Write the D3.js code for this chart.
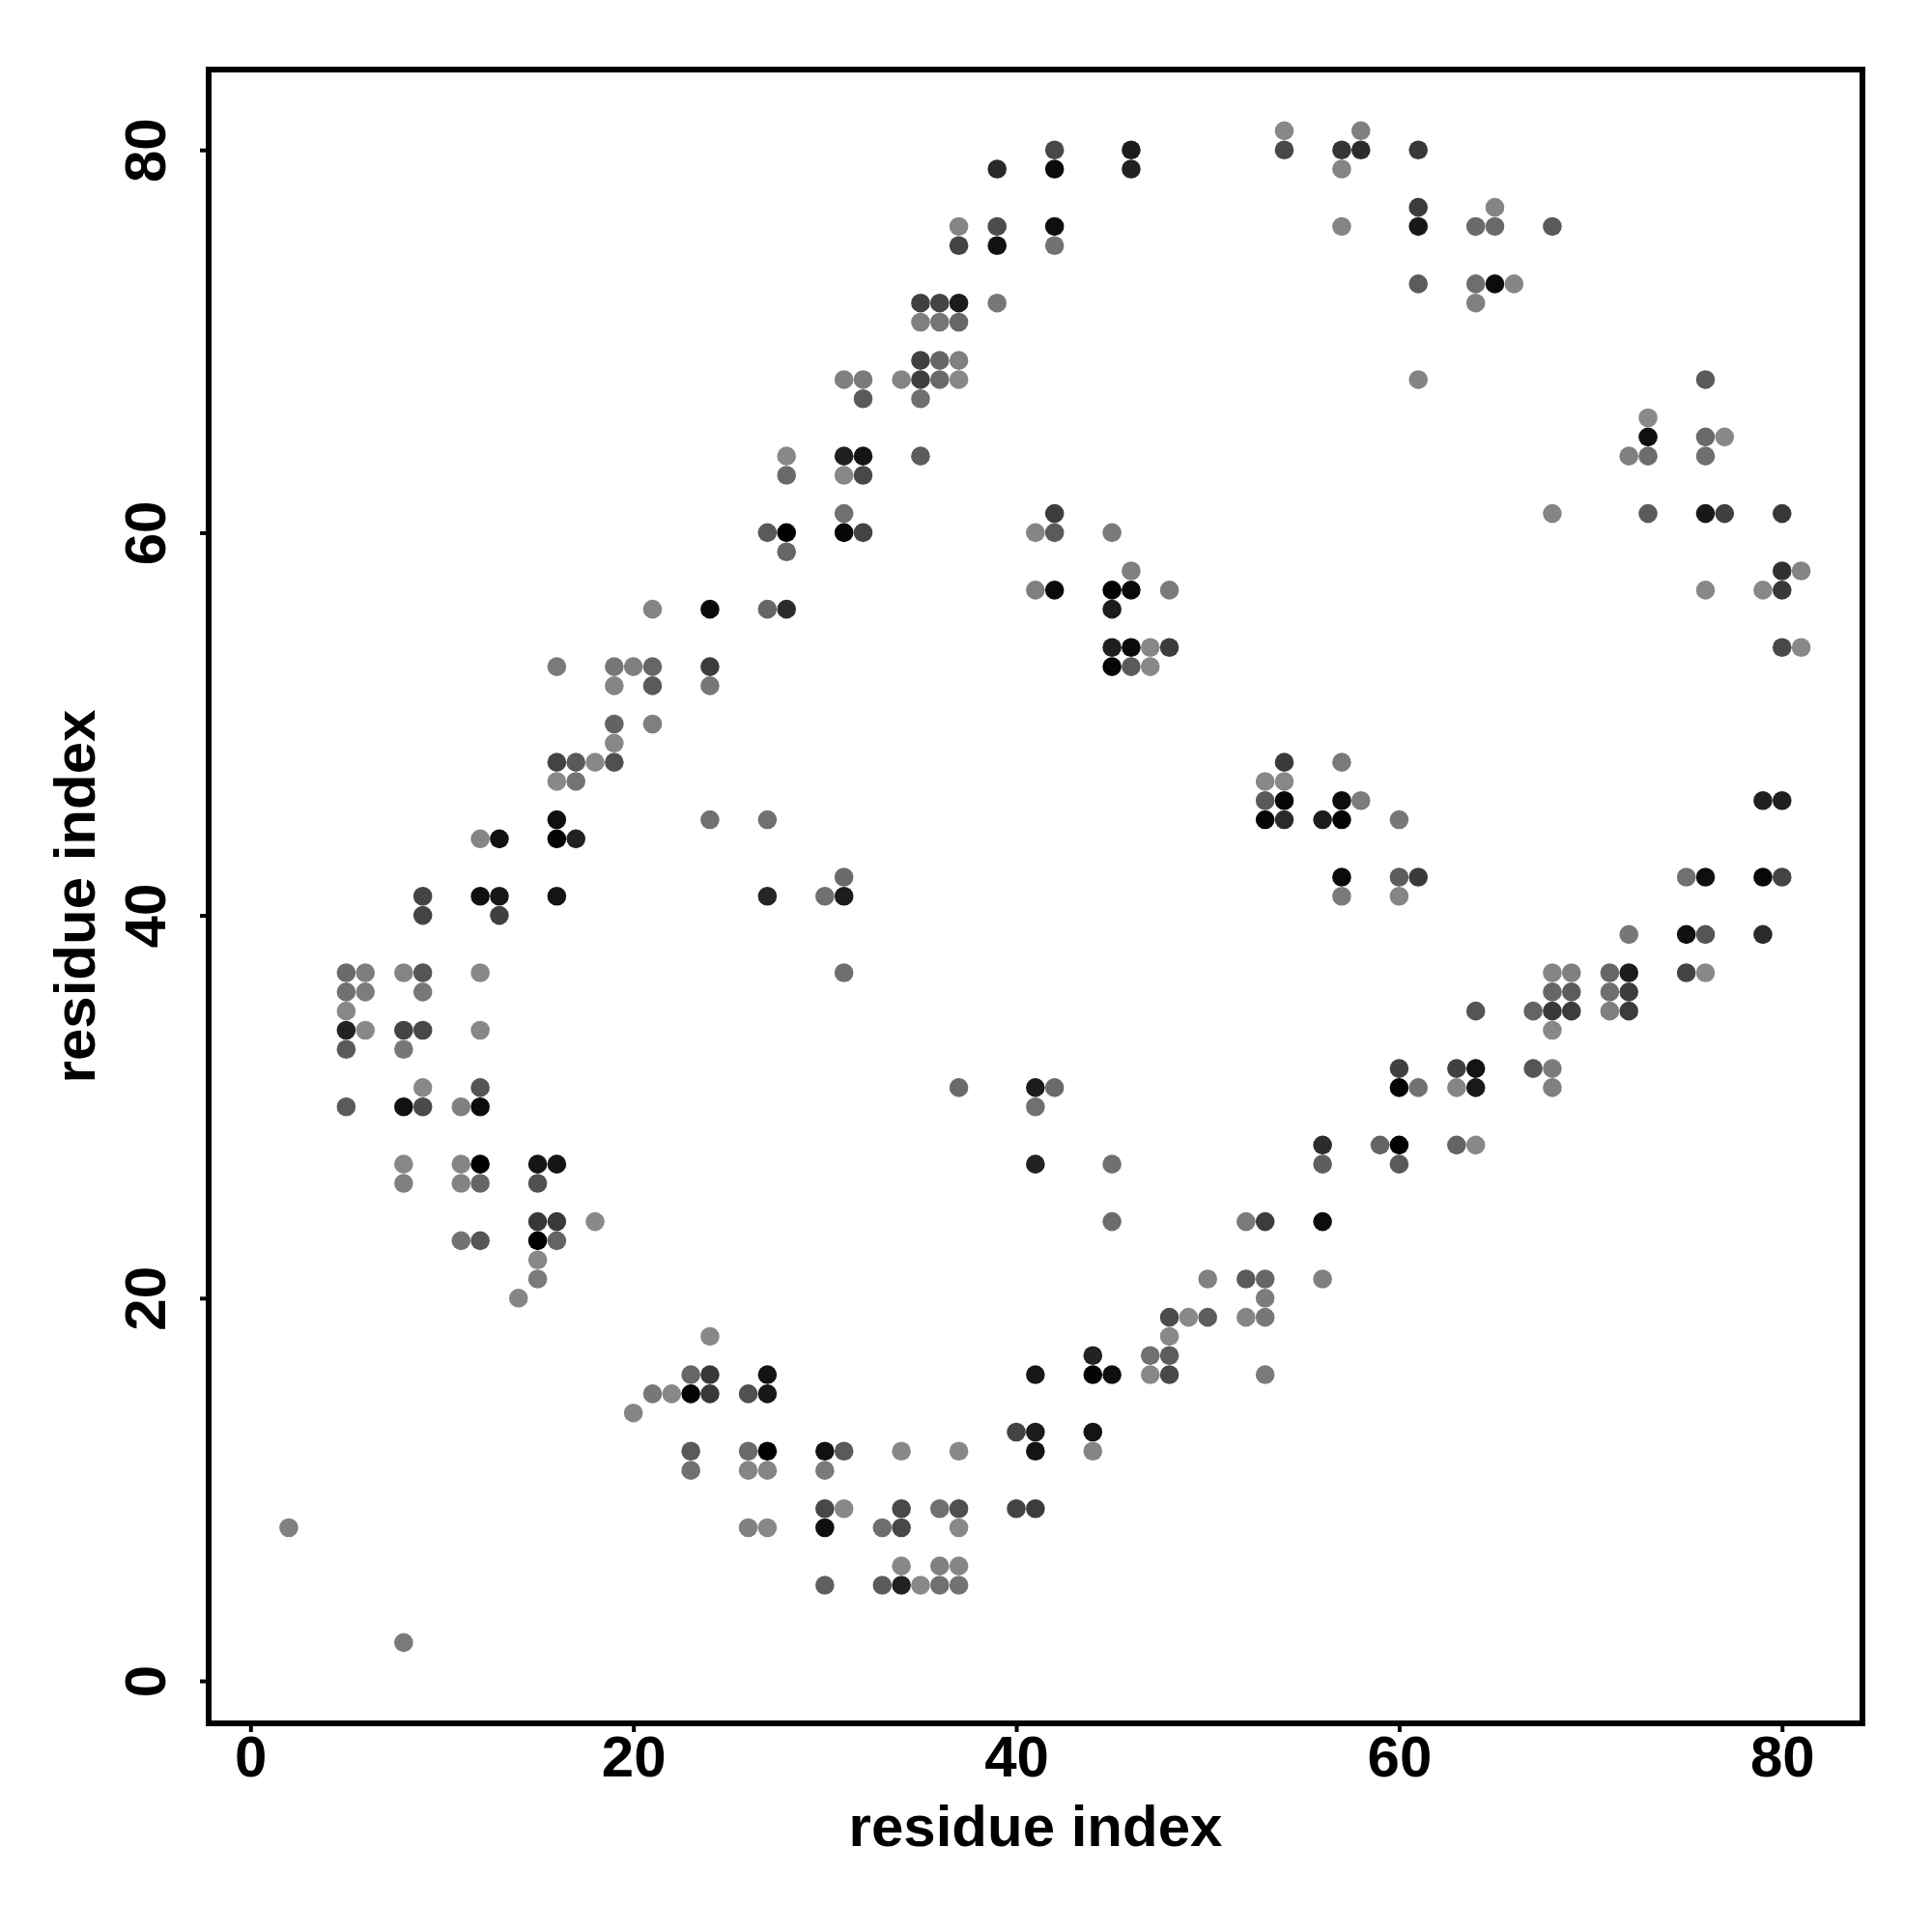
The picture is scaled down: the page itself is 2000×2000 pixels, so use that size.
<!DOCTYPE html>
<html><head><meta charset="utf-8">
<script src="https://cdn.jsdelivr.net/npm/d3@7/dist/d3.min.js"></script>
<style>html,body{margin:0;background:#fff}svg{display:block}text{font-family:"Liberation Sans",Arial,sans-serif;font-weight:bold;fill:#000}</style>
</head><body><div id="chart"></div>
<script>
// each row: [residue y, [residue x, grey level], ...]
const contacts = [
 [81,[54,0x88],[58,0x80]],
 [80,[42,0x48],[46,0x1c],[54,0x48],[57,0x35],[58,0x2c],[61,0x38]],
 [79,[39,0x28],[42,0x0a],[46,0x22],[57,0x85]],
 [77,[61,0x3c],[65,0x85]],
 [76,[37,0x85],[39,0x4c],[42,0x0f],[57,0x85],[61,0x18],[64,0x6a],[65,0x6a],[68,0x5a]],
 [75,[37,0x44],[39,0x11],[42,0x72]],
 [73,[61,0x5c],[64,0x6e],[65,0x0c],[66,0x86]],
 [72,[35,0x40],[36,0x44],[37,0x1c],[39,0x77],[64,0x80]],
 [71,[35,0x7f],[36,0x75],[37,0x66]],
 [69,[35,0x40],[36,0x66],[37,0x80]],
 [68,[31,0x80],[32,0x7a],[34,0x85],[35,0x40],[36,0x6a],[37,0x88],[61,0x83],[76,0x5a]],
 [67,[32,0x5a],[35,0x6f]],
 [66,[73,0x8a]],
 [65,[73,0x0f],[76,0x6a],[77,0x88]],
 [64,[28,0x88],[31,0x1f],[32,0x14],[35,0x5c],[72,0x80],[73,0x6c],[76,0x6f]],
 [63,[28,0x6a],[31,0x88],[32,0x48]],
 [61,[31,0x70],[42,0x3c],[68,0x85],[73,0x5a],[76,0x18],[77,0x40],[80,0x38]],
 [60,[27,0x5a],[28,0x00],[31,0x06],[32,0x44],[41,0x85],[42,0x5a],[45,0x7a]],
 [59,[28,0x66]],
 [58,[46,0x80],[80,0x30],[81,0x85]],
 [57,[41,0x7f],[42,0x0a],[45,0x02],[46,0x0a],[48,0x7a],[76,0x88],[79,0x88],[80,0x38]],
 [56,[21,0x85],[24,0x0c],[27,0x66],[28,0x2c],[45,0x1c]],
 [54,[45,0x1f],[46,0x0a],[47,0x88],[48,0x3c],[80,0x48],[81,0x88]],
 [53,[16,0x7a],[19,0x77],[20,0x7f],[21,0x66],[24,0x3c],[45,0x05],[46,0x5a],[47,0x88]],
 [52,[19,0x85],[21,0x5a],[24,0x77]],
 [50,[19,0x63],[21,0x7f]],
 [49,[19,0x88]],
 [48,[16,0x44],[17,0x5a],[18,0x88],[19,0x50],[54,0x3a],[57,0x7a]],
 [47,[16,0x88],[17,0x73],[53,0x88],[54,0x88]],
 [46,[53,0x5a],[54,0x06],[57,0x0c],[58,0x7c],[79,0x1f],[80,0x1f]],
 [45,[16,0x0f],[24,0x70],[27,0x70],[53,0x06],[54,0x2a],[56,0x1c],[57,0x03],[60,0x77]],
 [44,[12,0x85],[13,0x11],[16,0x03],[17,0x22]],
 [42,[31,0x6a],[57,0x0a],[60,0x5c],[61,0x3a],[75,0x70],[76,0x0f],[79,0x08],[80,0x44]],
 [41,[9,0x44],[12,0x11],[13,0x18],[16,0x14],[27,0x26],[30,0x70],[31,0x1c],[57,0x7a],[60,0x85]],
 [40,[9,0x44],[13,0x40]],
 [39,[72,0x77],[75,0x11],[76,0x55],[79,0x2a]],
 [37,[5,0x6a],[6,0x7e],[8,0x85],[9,0x55],[12,0x88],[31,0x6f],[68,0x85],[69,0x80],[71,0x66],[72,0x1c],[75,0x44],[76,0x88]],
 [36,[5,0x70],[6,0x7c],[9,0x77],[68,0x66],[69,0x5c],[71,0x6f],[72,0x3c]],
 [35,[5,0x88],[64,0x55],[67,0x64],[68,0x38],[69,0x3c],[71,0x80],[72,0x3c]],
 [34,[5,0x22],[6,0x88],[8,0x44],[9,0x48],[12,0x88],[68,0x88]],
 [33,[5,0x5a],[8,0x77]],
 [32,[60,0x40],[63,0x40],[64,0x14],[67,0x55],[68,0x7c]],
 [31,[9,0x88],[12,0x55],[37,0x6a],[41,0x1c],[42,0x6a],[60,0x06],[61,0x71],[63,0x85],[64,0x1a],[68,0x80]],
 [30,[5,0x5a],[8,0x11],[9,0x4a],[11,0x80],[12,0x0c],[41,0x70]],
 [28,[56,0x2c],[59,0x64],[60,0x00],[63,0x64],[64,0x88]],
 [27,[8,0x88],[11,0x85],[12,0x00],[15,0x15],[16,0x15],[41,0x22],[45,0x70],[56,0x5e],[60,0x5a]],
 [26,[8,0x80],[11,0x83],[12,0x66],[15,0x50]],
 [24,[15,0x38],[16,0x3a],[18,0x88],[45,0x6c],[52,0x7a],[53,0x3c],[56,0x0c]],
 [23,[11,0x72],[12,0x55],[15,0x00],[16,0x64]],
 [22,[15,0x88]],
 [21,[15,0x7a],[50,0x80],[52,0x5a],[53,0x66],[56,0x7f]],
 [20,[14,0x86],[53,0x7c]],
 [19,[48,0x4c],[49,0x88],[50,0x5c],[52,0x85],[53,0x77]],
 [18,[24,0x88],[48,0x88]],
 [17,[44,0x22],[47,0x70],[48,0x5c]],
 [16,[23,0x66],[24,0x38],[27,0x14],[41,0x18],[44,0x04],[45,0x0f],[47,0x88],[48,0x48],[53,0x7a]],
 [15,[21,0x77],[22,0x88],[23,0x02],[24,0x38],[26,0x50],[27,0x18]],
 [14,[20,0x85]],
 [13,[40,0x44],[41,0x1c],[44,0x14]],
 [12,[23,0x5a],[26,0x6a],[27,0x00],[30,0x11],[31,0x5a],[34,0x88],[37,0x88],[41,0x14],[44,0x85]],
 [11,[23,0x70],[26,0x85],[27,0x85],[30,0x7a]],
 [9,[30,0x48],[31,0x88],[34,0x48],[36,0x70],[37,0x50],[40,0x44],[41,0x3c]],
 [8,[2,0x80],[26,0x80],[27,0x88],[30,0x0f],[33,0x6e],[34,0x48],[37,0x88]],
 [6,[34,0x88],[36,0x80],[37,0x86]],
 [5,[30,0x5f],[33,0x5a],[34,0x22],[35,0x88],[36,0x70],[37,0x72]],
 [2,[8,0x7a]]
];
const xTicks = [0,20,40,60,80];
const yTicks = [0,20,40,60,80];
const xLabel = "residue index";
const yLabel = "residue index";

const W=2000,H=2000,L=216,R=1928,T=72,B=1784;
const x=d3.scaleLinear().domain([-2.185,84.2]).range([L,R]);
const y=d3.scaleLinear().domain([-2.22,84.2]).range([B,T]);
const svg=d3.select("#chart").append("svg").attr("width",W).attr("height",H);
svg.append("rect").attr("width",W).attr("height",H).attr("fill","#fff");

const pts=contacts.flatMap(([yv,...cells])=>cells.map(([xv,g])=>({xv,yv,g})));
svg.append("g").selectAll("circle").data(pts).join("circle")
 .attr("cx",d=>x(d.xv)).attr("cy",d=>y(d.yv)).attr("r",9.8)
 .attr("fill",d=>d3.rgb(d.g,d.g,d.g).formatHex());

const ax=svg.append("g").attr("transform",`translate(0,${B})`)
 .call(d3.axisBottom(x).tickValues(xTicks).tickSize(9).tickPadding(9).tickFormat(d3.format("d")));
const ay=svg.append("g").attr("transform",`translate(${L},0)`)
 .call(d3.axisLeft(y).tickValues(yTicks).tickSize(9).tickPadding(0).tickFormat(d3.format("d")));
[ax,ay].forEach(a=>{a.select(".domain").remove();a.selectAll("line").attr("stroke","#000").attr("stroke-width",4);
 a.selectAll("text").attr("font-size",60).attr("fill","#000").attr("font-family",'"Liberation Sans"').attr("font-weight","bold");});
ax.selectAll("text").attr("y",0).attr("dy",0).attr("text-anchor","middle").attr("transform","translate(0,55)");
ay.selectAll("text").attr("x",0).attr("y",0).attr("dy",0).attr("text-anchor","middle")
 .attr("transform","translate(-45,0) rotate(-90)");

svg.append("rect").attr("x",L).attr("y",T).attr("width",R-L).attr("height",B-T)
 .attr("fill","none").attr("stroke","#000").attr("stroke-width",6);

svg.append("text").attr("x",(L+R)/2).attr("y",1911).attr("text-anchor","middle").attr("font-size",60).text(xLabel);
svg.append("text").attr("transform",`translate(98,${(T+B)/2}) rotate(-90)`).attr("text-anchor","middle").attr("font-size",60).text(yLabel);
</script></body></html>
